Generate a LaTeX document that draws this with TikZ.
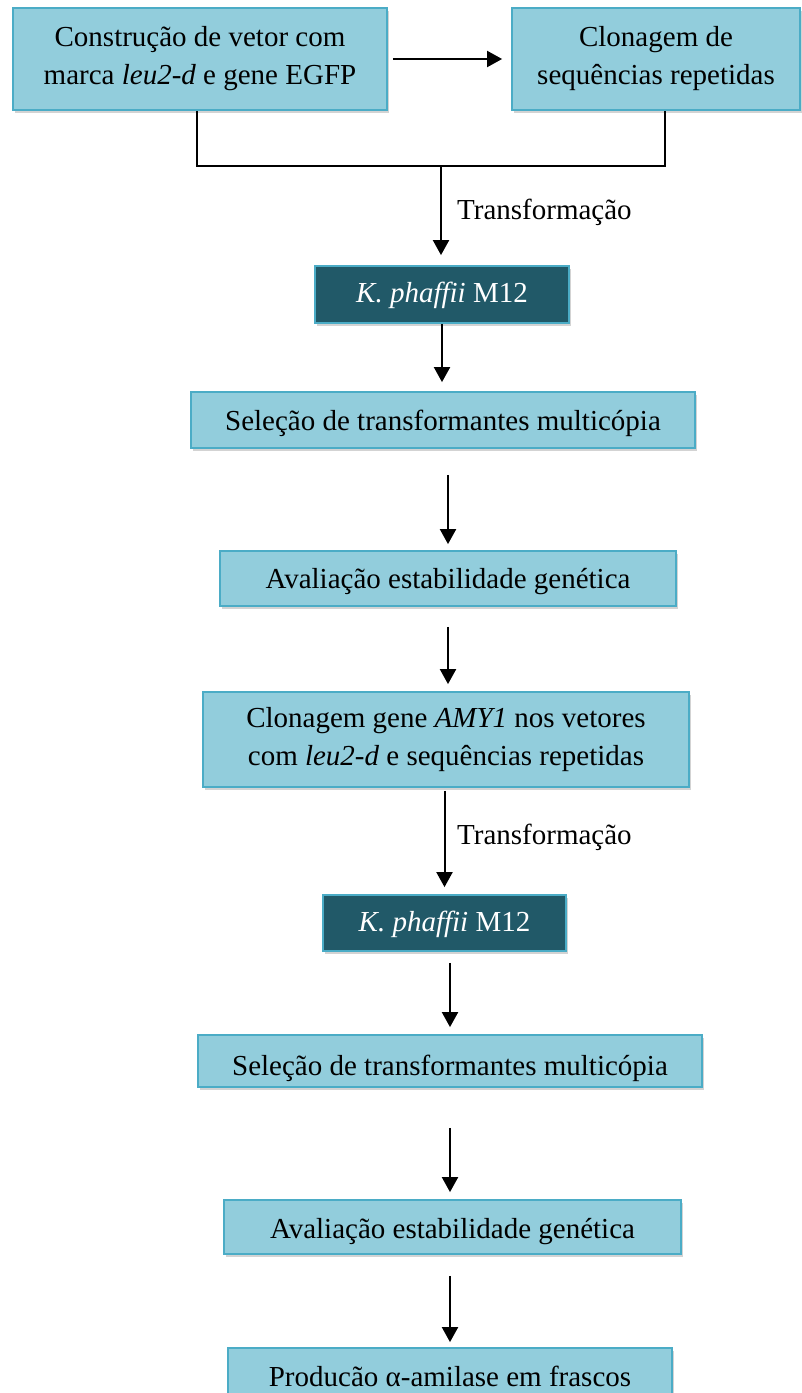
\documentclass[tikz,border=0pt]{standalone}
\usepackage{fontspec}
\setmainfont{Liberation Serif}
\usetikzlibrary{positioning, arrows.meta, shadows}
\definecolor{caixa}{RGB}{146,205,220}
\definecolor{borda}{RGB}{75,172,198}
\definecolor{escuro}{RGB}{33,89,104}

\begin{document}
\begin{tikzpicture}[x=1pt, y=-1pt,
    etapa/.style={draw=borda, fill=caixa, line width=1.8pt, inner sep=0pt, align=center,
      font=\fontsize{29}{38}\selectfont,
      drop shadow={shadow xshift=2pt, shadow yshift=-3pt, opacity=0.35}},
    cepa/.style={etapa, fill=escuro, text=white},
    seta/.style={-{Triangle[length=15pt, width=16pt]}, line width=2pt},
    linha/.style={line width=2pt},
    rotulo/.style={anchor=west, inner sep=0pt, font=\fontsize{29}{38}\selectfont}]
    \useasboundingbox (0,0) rectangle (801,1393);

    % Construção dos vetores
    \node[etapa, minimum width=374pt, minimum height=102pt] (vetor) at (200,59)
        {Construção de vetor com\\ marca \textit{leu2-d} e gene EGFP};
    \node[etapa, minimum width=288pt, minimum height=102pt] (clonseq) at (656,59)
        {Clonagem de\\ sequências repetidas};
    \draw[seta, shorten <=5pt, shorten >=9pt] (vetor) -- (clonseq);

    % Junção e primeira transformação
    \coordinate (junta) at (441,166);
    \draw[linha] ([xshift=-3pt]vetor.south) |- (junta) -| ([xshift=9pt]clonseq.south);
    \node[cepa, minimum width=254pt, minimum height=57pt, text height=22pt, text depth=6pt] (cepa1) at (442,294.5)
        {\textit{K. phaffii} M12};
    \draw[seta, shorten >=10pt] (junta) -- (junta |- cepa1.north);
    \node[rotulo] (transf1) at (457,212) {Transformação};

    % Seleção e estabilidade (vetor vazio)
    \node[etapa, minimum width=504pt, minimum height=56pt, text height=26pt, text depth=6pt] (sel1) at (443,420)
        {Seleção de transformantes multicópia};
    \draw[seta, shorten >=9pt] (cepa1.south) -- (cepa1.south |- sel1.north);
    \node[etapa, minimum width=456pt, minimum height=55pt, text height=25pt, text depth=6pt] (aval1) at (448,578.5)
        {Avaliação estabilidade genética};
    \draw[seta, shorten <=26pt, shorten >=6pt] (sel1.south -| aval1.north) -- (aval1.north);

    % Clonagem do AMY1
    \node[etapa, minimum width=486pt, minimum height=95pt] (clonamy) at (446,739.5)
        {Clonagem gene \textit{AMY1} nos vetores\\ com \textit{leu2-d} e sequências repetidas};
    \draw[seta, shorten <=20pt, shorten >=7pt] (aval1.south) -- (aval1.south |- clonamy.north);

    % Segunda transformação
    \node[cepa, minimum width=243pt, minimum height=56pt, text height=22pt, text depth=6pt] (cepa2) at (444.5,923)
        {\textit{K. phaffii} M12};
    \draw[seta, shorten <=3pt, shorten >=7pt] (clonamy.south -| cepa2.north) -- (cepa2.north);
    \node[rotulo] (transf2) at (457,837) {Transformação};

    % Seleção, estabilidade e produção
    \node[etapa, minimum width=504pt, minimum height=52pt, text height=34pt, text depth=6pt] (sel2) at (450,1061)
        {Seleção de transformantes multicópia};
    \draw[seta, shorten <=11pt, shorten >=7pt] (cepa2.south -| sel2.north) -- (sel2.north);
    \node[etapa, minimum width=457pt, minimum height=54pt, text height=28pt, text depth=6pt] (aval2) at (452.5,1227)
        {Avaliação estabilidade genética};
    \draw[seta, shorten <=40pt, shorten >=7pt] (sel2.south) -- (sel2.south |- aval2.north);
    \node[etapa, minimum width=444pt, minimum height=56pt] (prod) at (450,1376)
        {Producão α-amilase em frascos};
    \draw[seta, shorten <=21pt, shorten >=5pt] (aval2.south -| prod.north) -- (prod.north);
\end{tikzpicture}
\end{document}
